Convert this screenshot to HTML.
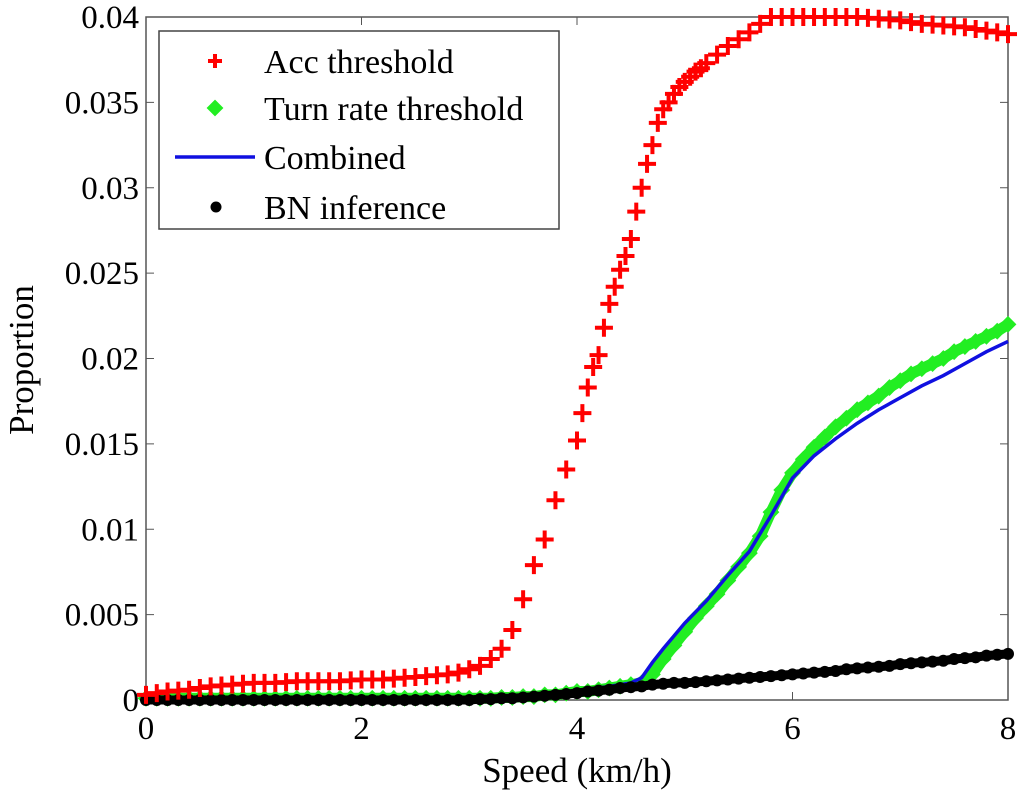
<!DOCTYPE html>
<html><head><meta charset="utf-8"><style>
body{margin:0;background:#fff}
svg text{font-family:"Liberation Serif",serif;fill:#000}
</style></head><body>
<svg id="chart" width="1024" height="800" xmlns="http://www.w3.org/2000/svg"></svg>
<script>
const xTicks=[0,2,4,6,8];
const yTicks=[0,0.005,0.01,0.015,0.02,0.025,0.03,0.035,0.04];
const yTickLabels=["0","0.005","0.01","0.015","0.02","0.025","0.03","0.035","0.04"];
const accX=[0,0.1,0.2,0.3,0.4,0.5,0.6,0.7,0.8,0.9,1.0,1.1,1.2,1.3,1.4,1.5,1.6,1.7,1.8,1.9,2.0,2.1,2.2,2.3,2.4,2.5,2.6,2.7,2.8,2.9,3.0,3.1,3.2,3.3,3.4,3.5,3.6,3.7,3.8,3.9,4.0,4.05,4.1,4.15,4.2,4.25,4.3,4.35,4.4,4.45,4.5,4.55,4.6,4.65,4.7,4.75,4.8,4.85,4.9,4.95,5.0,5.05,5.1,5.15,5.2,5.3,5.4,5.5,5.6,5.7,5.8,5.9,6.0,6.1,6.2,6.3,6.4,6.5,6.6,6.7,6.8,6.9,7.0,7.1,7.2,7.3,7.4,7.5,7.6,7.7,7.8,7.9,8.0];
const accY=[0.3,0.4,0.5,0.55,0.6,0.7,0.8,0.85,0.9,0.95,1.0,1.0,1.0,1.05,1.1,1.1,1.1,1.1,1.1,1.15,1.2,1.2,1.2,1.25,1.3,1.35,1.4,1.45,1.5,1.6,1.8,2.0,2.4,3.0,4.1,5.9,7.9,9.4,11.7,13.5,15.2,16.8,18.3,19.5,20.2,21.8,23.2,24.2,25.2,26.0,27.0,28.6,30.0,31.4,32.5,33.8,34.6,35.0,35.5,35.9,36.2,36.5,36.8,37.0,37.3,37.8,38.3,38.7,39.1,39.6,40,40,40,40,40,40,40,40,40,39.95,39.9,39.85,39.8,39.7,39.6,39.55,39.5,39.45,39.4,39.3,39.2,39.1,39.0];
const turnX=[0,0.1,0.2,0.3,0.4,0.5,0.6,0.7,0.8,0.9,1.0,1.1,1.2,1.3,1.4,1.5,1.6,1.7,1.8,1.9,2.0,2.1,2.2,2.3,2.4,2.5,2.6,2.7,2.8,2.9,3.0,3.1,3.2,3.3,3.4,3.5,3.6,3.7,3.8,3.9,4.0,4.1,4.2,4.3,4.4,4.5,4.6,4.7,4.8,4.9,5.0,5.1,5.2,5.3,5.4,5.5,5.6,5.7,5.8,5.9,6.0,6.1,6.2,6.3,6.4,6.5,6.6,6.7,6.8,6.9,7.0,7.1,7.2,7.3,7.4,7.5,7.6,7.7,7.8,7.9,8.0];
const turnY=[0.1,0.1,0.1,0.1,0.1,0.1,0.1,0.1,0.1,0.1,0.1,0.1,0.1,0.1,0.1,0.1,0.1,0.1,0.1,0.1,0.1,0.1,0.1,0.1,0.1,0.1,0.1,0.1,0.1,0.1,0.1,0.1,0.1,0.15,0.15,0.2,0.2,0.3,0.3,0.4,0.5,0.5,0.6,0.7,0.8,0.9,1.0,1.5,2.4,3.2,4.0,4.8,5.5,6.2,7.0,7.8,8.6,9.6,11.0,12.3,13.3,14.1,14.8,15.4,16.0,16.5,17.0,17.4,17.8,18.3,18.7,19.1,19.4,19.7,20.0,20.4,20.7,21.0,21.3,21.6,22.0];
const combX=[0,1,2,3,3.5,4.0,4.3,4.5,4.6,4.7,4.8,5.0,5.2,5.4,5.6,5.8,6.0,6.2,6.4,6.6,6.8,7.0,7.2,7.4,7.6,7.8,8.0];
const combY=[0.1,0.1,0.1,0.1,0.2,0.5,0.8,1.0,1.3,2.2,3.0,4.5,5.8,7.3,8.7,10.8,13.0,14.3,15.3,16.2,17.0,17.7,18.4,19.0,19.7,20.4,21.0];
const bnX=turnX;
const bnY=[0,0,0,0,0,0,0,0,0,0,0,0,0,0,0,0,0,0,0,0,0,0,0,0,0,0,0,0,0,0,0,0.05,0.05,0.1,0.1,0.15,0.2,0.25,0.3,0.35,0.4,0.5,0.55,0.6,0.7,0.75,0.8,0.9,0.95,1.0,1.0,1.05,1.1,1.15,1.2,1.25,1.3,1.35,1.4,1.45,1.5,1.55,1.6,1.65,1.7,1.8,1.85,1.9,1.95,2.0,2.1,2.15,2.2,2.25,2.3,2.4,2.45,2.5,2.6,2.65,2.7];

const L=146,R=1008,T=17,B=700;
const sx=v=>L+(v/8)*(R-L);
const sy=v=>B-(v/0.04)*(B-T);
const svg=document.getElementById('chart');
const NS='http://www.w3.org/2000/svg';
function mk(tag,attrs,parent){const e=document.createElementNS(NS,tag);for(const k in attrs)e.setAttribute(k,attrs[k]);(parent||svg).appendChild(e);return e;}

const axes=mk('rect',{x:L,y:T,width:R-L,height:B-T,fill:'#fff',stroke:'#555','stroke-width':1.5});



xTicks.forEach(v=>{
  mk('line',{x1:sx(v),y1:B,x2:sx(v),y2:B-8,stroke:'#555'});
  mk('line',{x1:sx(v),y1:T,x2:sx(v),y2:T+8,stroke:'#555'});
  const t=mk('text',{x:sx(v),y:B+39,'text-anchor':'middle','font-size':33});
  t.textContent=v;
  
  
});
yTicks.forEach((v,i)=>{
  mk('line',{x1:L,y1:sy(v),x2:L+8,y2:sy(v),stroke:'#555'});
  mk('line',{x1:R,y1:sy(v),x2:R-8,y2:sy(v),stroke:'#555'});
  const t=mk('text',{x:L-7,y:sy(v)+11,'text-anchor':'end','font-size':33});
  t.textContent=yTickLabels[i];
  
  
});
const xl=mk('text',{x:577,y:782,'text-anchor':'middle','font-size':35});
xl.textContent='Speed (km/h)';


const yl=mk('text',{x:33,y:360,'text-anchor':'middle','font-size':35,transform:'rotate(-90 33 360)'});
yl.textContent='Proportion';



function plus(g,x,y,s,c,w){mk('path',{d:`M${x-s} ${y}H${x+s}M${x} ${y-s}V${y+s}`,stroke:c,'stroke-width':w,fill:'none'},g);}
function diamond(g,x,y,s,c){mk('path',{d:`M${x} ${y-s}L${x+s} ${y}L${x} ${y+s}L${x-s} ${y}Z`,fill:c,stroke:c,'stroke-width':2},g);}

const gT=mk('g',{});


mk('polyline',{points:turnX.map((x,i)=>sx(x)+','+sy(turnY[i]/1000)).join(' '),fill:'none',stroke:'#22ee22','stroke-width':11,'stroke-linejoin':'round'},gT);
turnX.forEach((x,i)=>diamond(gT,sx(x),sy(turnY[i]/1000),7,'#22ee22'));
const gC=mk('polyline',{points:combX.map((x,i)=>sx(x)+','+sy(combY[i]/1000)).join(' '),fill:'none',stroke:'#1010e0','stroke-width':3.5});


const gB=mk('g',{});


mk('polyline',{points:bnX.map((x,i)=>sx(x)+','+sy(bnY[i]/1000)).join(' '),fill:'none',stroke:'#000','stroke-width':9},gB);
bnX.forEach((x,i)=>mk('circle',{cx:sx(x),cy:sy(bnY[i]/1000),r:6,fill:'#000'},gB));
const gA=mk('g',{});


accX.forEach((x,i)=>plus(gA,sx(x),sy(accY[i]/1000),9,'#ff0000',4));

const lg=mk('g',{});


mk('rect',{x:159,y:31,width:400,height:198,fill:'#fff',stroke:'#444','stroke-width':1.5},lg);
const items=['Acc threshold','Turn rate threshold','Combined','BN inference'];
const ys=[61,108,157,207];
plus(lg,215,ys[0],7,'#ff0000',4);
diamond(lg,215,ys[1],7,'#22ee22');
mk('line',{x1:175,y1:ys[2],x2:255,y2:ys[2],stroke:'#1010e0','stroke-width':3.5},lg);
mk('circle',{cx:216,cy:ys[3],r:5.5,fill:'#000'},lg);
items.forEach((s,i)=>{
  const t=mk('text',{x:264,y:ys[i]+12,'font-size':34},lg);
  t.textContent=s;
  
  
});
</script>
</body></html>
